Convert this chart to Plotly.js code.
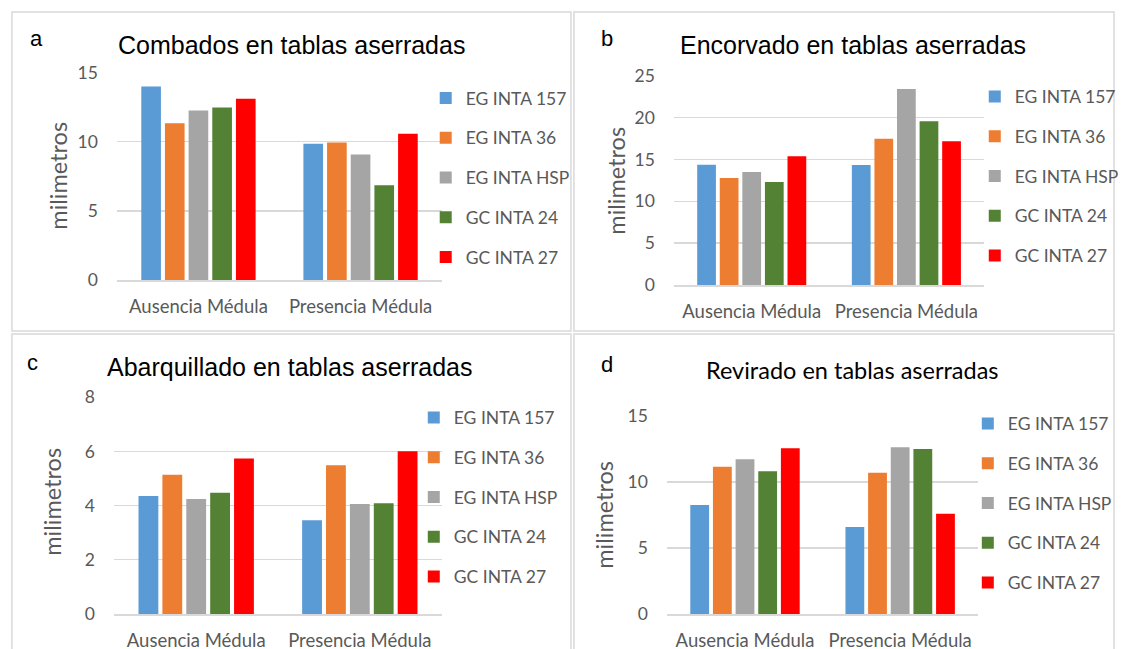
<!DOCTYPE html>
<html>
<head>
<meta charset="utf-8">
<script src="https://cdn.plot.ly/plotly-3.0.1.min.js"></script>
<style>html,body{margin:0;padding:0;background:#fff;}#chart{width:1124px;height:649px;}</style>
</head>
<body>
<div id="chart"></div>
<script>
// ---------- DATA ----------
var categories = ['Ausencia Médula', 'Presencia Médula'];
var seriesNames = ['EG INTA 157', 'EG INTA 36', 'EG INTA HSP', 'GC INTA 24', 'GC INTA 27'];
var seriesColors = ['#5B9BD5', '#ED7D31', '#A5A5A5', '#548235', '#FF0000'];

// values per series: [Ausencia, Presencia]
var combados_EG157 = [14.0, 9.86];
var combados_EG36  = [11.35, 9.95];
var combados_HSP   = [12.27, 9.08];
var combados_GC24  = [12.49, 6.86];
var combados_GC27  = [13.12, 10.58];

var encorvado_EG157 = [14.37, 14.33];
var encorvado_EG36  = [12.78, 17.48];
var encorvado_HSP   = [13.5, 23.42];
var encorvado_GC24  = [12.3, 19.56];
var encorvado_GC27  = [15.37, 17.17];

var abarquillado_EG157 = [4.36, 3.46];
var abarquillado_EG36  = [5.14, 5.49];
var abarquillado_HSP   = [4.25, 4.06];
var abarquillado_GC24  = [4.48, 4.09];
var abarquillado_GC27  = [5.74, 6.01];

var revirado_EG157 = [8.26, 6.59];
var revirado_EG36  = [11.16, 10.71];
var revirado_HSP   = [11.72, 12.63];
var revirado_GC24  = [10.81, 12.5];
var revirado_GC27  = [12.55, 7.6];

var panelTitles = ['Combados en tablas aserradas', 'Encorvado en tablas aserradas',
                   'Abarquillado en tablas aserradas', 'Revirado en tablas aserradas'];
var panelLetters = ['a', 'b', 'c', 'd'];
var yTitle = 'milimetros';

var panelData = [
  [combados_EG157, combados_EG36, combados_HSP, combados_GC24, combados_GC27],
  [encorvado_EG157, encorvado_EG36, encorvado_HSP, encorvado_GC24, encorvado_GC27],
  [abarquillado_EG157, abarquillado_EG36, abarquillado_HSP, abarquillado_GC24, abarquillado_GC27],
  [revirado_EG157, revirado_EG36, revirado_HSP, revirado_GC24, revirado_GC27]
];

// ---------- LAYOUT (pixel geometry) ----------
var W = 1124, H = 649;
function px(x) { return x / W; }
function py(y) { return 1 - y / H; }

var geo = [
  {x0: 118, x1: 444, y0: 72.7, y1: 280, range: [0, 15], dtick: 5, legX: 428, legY: 97.5,
   letter: [37, 38], title: [293, 45], ytitle: [58, 176], titleFont: 'Liberation Sans, Arial', titleSize: 25},
  {x0: 678, x1: 989, y0: 75.7, y1: 285, range: [0, 25], dtick: 5, legX: 980, legY: 96,
   letter: [610, 39], title: [858, 45], ytitle: [619, 181], titleFont: 'Liberation Sans, Arial', titleSize: 25},
  {x0: 115, x1: 444, y0: 397.3, y1: 614, range: [0, 8], dtick: 2, legX: 416, legY: 417,
   letter: [33, 363], title: [292, 367], ytitle: [52, 502], titleFont: 'Liberation Sans, Arial', titleSize: 25},
  {x0: 671, x1: 983, y0: 416, y1: 614, range: [0, 15], dtick: 5, legX: 973, legY: 423,
   letter: [610, 364], title: [857, 370], ytitle: [607, 515], titleFont: 'Lato', titleSize: 23.5}
];

var xTickFont = {family: 'Lato', size: 18.5, color: '#595959'};
var yTickFont = {family: 'Lato', size: 17.5, color: '#595959'};
var traces = [];
var layout = {
  width: W, height: H,
  margin: {l: 0, r: 0, t: 0, b: 0},
  paper_bgcolor: '#ffffff', plot_bgcolor: '#ffffff',
  barmode: 'group', bargap: 0.27, bargroupgap: 0.17,
  showlegend: true,
  annotations: [], shapes: []
};

for (var p = 0; p < 4; p++) {
  var g = geo[p];
  var sfx = p === 0 ? '' : String(p + 1);
  var legName = 'legend' + sfx;
  for (var s = 0; s < 5; s++) {
    traces.push({
      type: 'bar', x: categories, y: panelData[p][s], name: seriesNames[s],
      marker: {color: seriesColors[s], line: {width: 0}},
      xaxis: 'x' + sfx, yaxis: 'y' + sfx,
      legend: legName, legendgroup: 'p' + p + 's' + s, showlegend: true,
      hoverinfo: 'y+name'
    });
  }
  layout['xaxis' + sfx] = {
    domain: [px(g.x0), px(g.x1)], anchor: 'y' + sfx, automargin: false,
    showgrid: false, zeroline: false, showline: true, linecolor: '#d9d9d9', linewidth: 2,
    ticks: 'outside', ticklen: 9, tickcolor: 'rgba(0,0,0,0)', tickfont: xTickFont, fixedrange: true
  };
  layout['yaxis' + sfx] = {
    domain: [py(g.y1), py(g.y0)], anchor: 'x' + sfx, automargin: false,
    range: g.range, dtick: g.dtick, tick0: 0,
    showgrid: true, gridcolor: '#d9d9d9', gridwidth: 1.3, zeroline: false, showline: false,
    ticks: 'outside', ticklen: 15, tickcolor: 'rgba(0,0,0,0)', tickfont: yTickFont, fixedrange: true
  };
  layout[legName] = {
    x: px(g.legX), y: py(g.legY - 17.5), xanchor: 'left', yanchor: 'top',
    orientation: 'v', traceorder: 'grouped', tracegroupgap: 14,
    font: {family: 'Lato', size: 17.5, color: '#595959'},
    bgcolor: 'rgba(0,0,0,0)', borderwidth: 0
  };
  layout.annotations.push({
    text: panelTitles[p], xref: 'paper', yref: 'paper', x: px(g.title[0]), y: py(g.title[1]),
    xanchor: 'center', yanchor: 'middle', showarrow: false,
    font: {family: g.titleFont, size: g.titleSize, color: '#000000'}
  });
  layout.annotations.push({
    text: panelLetters[p], xref: 'paper', yref: 'paper', x: px(g.letter[0]), y: py(g.letter[1]),
    xanchor: 'center', yanchor: 'middle', showarrow: false,
    font: {family: 'Liberation Sans, Arial', size: 22, color: '#000000'}
  });
  layout.annotations.push({
    text: yTitle, xref: 'paper', yref: 'paper', x: px(g.ytitle[0]), y: py(g.ytitle[1]),
    xanchor: 'center', yanchor: 'middle', showarrow: false, textangle: -90,
    font: {family: 'Lato', size: 23.5, color: '#595959'}
  });
}

// panel frames
var frames = [[12, 12, 574, 331], [577, 12, 1120, 331], [12, 334, 574, 660], [577, 334, 1120, 660]];
frames.forEach(function (f) {
  layout.shapes.push({type: 'rect', xref: 'paper', yref: 'paper',
    x0: px(f[0]), x1: px(f[2]), y0: py(f[3]), y1: py(f[1]),
    line: {color: '#d9d9d9', width: 1.5}, fillcolor: 'rgba(0,0,0,0)', layer: 'below'});
});

Plotly.newPlot('chart', traces, layout, {displayModeBar: false, staticPlot: true});
</script>
</body>
</html>
